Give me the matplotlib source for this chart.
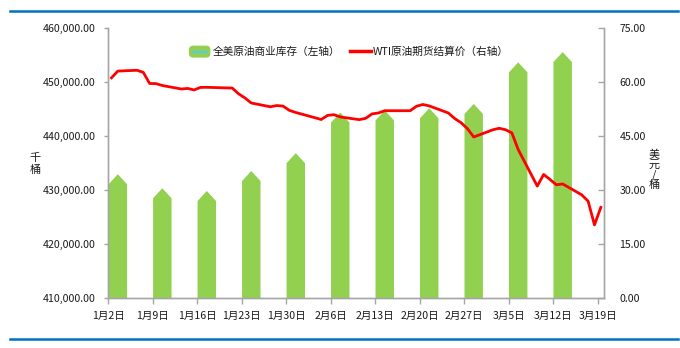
import matplotlib
matplotlib.use("Agg")
import matplotlib.pyplot as plt
import numpy as np
import pandas as pd
from matplotlib.patches import Patch, FancyBboxPatch
from matplotlib.lines import Line2D
from matplotlib.legend_handler import HandlerBase
from matplotlib.ticker import FuncFormatter, FixedLocator

plt.rcParams['font.family'] = ['Noto Sans CJK SC', 'DejaVu Sans']

# ---------------- data ----------------
start_date = "2020-01-02"
inv_dates = ["2020-01-03", "2020-01-10", "2020-01-17", "2020-01-24", "2020-01-31",
             "2020-02-07", "2020-02-14", "2020-02-21", "2020-02-28", "2020-03-06",
             "2020-03-13"]
inv_values = [431100, 428500, 428000, 431700, 435000, 442500, 442900, 443300,
              444100, 451800, 453700]

wti_dates = ["2020-01-02", "2020-01-03", "2020-01-06", "2020-01-07", "2020-01-08",
             "2020-01-09", "2020-01-10", "2020-01-13", "2020-01-14", "2020-01-15",
             "2020-01-16", "2020-01-17", "2020-01-21", "2020-01-22", "2020-01-23",
             "2020-01-24", "2020-01-27", "2020-01-28", "2020-01-29", "2020-01-30",
             "2020-01-31", "2020-02-03", "2020-02-04", "2020-02-05", "2020-02-06",
             "2020-02-07", "2020-02-10", "2020-02-11", "2020-02-12", "2020-02-13",
             "2020-02-14", "2020-02-18", "2020-02-19", "2020-02-20", "2020-02-21",
             "2020-02-24", "2020-02-25", "2020-02-26", "2020-02-27", "2020-02-28",
             "2020-03-02", "2020-03-03", "2020-03-04", "2020-03-05", "2020-03-06",
             "2020-03-09", "2020-03-10", "2020-03-11", "2020-03-12", "2020-03-13",
             "2020-03-16", "2020-03-17", "2020-03-18", "2020-03-19"]
wti_values = [61.18, 63.05, 63.27, 62.70, 59.61, 59.56, 59.04, 58.08, 58.23, 57.81,
              58.52, 58.54, 58.34, 56.74, 55.59, 54.19, 53.14, 53.48, 53.33, 52.14,
              51.56, 50.11, 49.61, 50.75, 50.95, 50.32, 49.57, 49.94, 51.17, 51.42,
              52.05, 52.05, 53.29, 53.78, 53.38, 51.43, 49.90, 48.73, 47.09, 44.76,
              46.75, 47.18, 46.78, 45.90, 41.28, 31.13, 34.36, 32.98, 31.50, 31.73,
              28.70, 26.95, 20.37, 25.22]

tick_labels = ["1月2日", "1月9日", "1月16日", "1月23日", "1月30日", "2月6日",
               "2月13日", "2月20日", "2月27日", "3月5日", "3月12日", "3月19日"]

inv_label = "全美原油商业库存（左轴）"
wti_label = "WTI原油期货结算价（右轴）"

# ---------------- helpers ----------------
t0 = pd.Timestamp(start_date)
def day_pos(dates):
    # centre of each daily bin on the date axis
    return np.array([(pd.Timestamp(d) - t0).days + 0.5 for d in dates])

inv_x = day_pos(inv_dates)
wti_x = day_pos(wti_dates)
tick_pos = [7 * i for i in range(len(tick_labels))]

GREEN = "#92D050"
RED = "#FF0000"
BLUE = "#0070C0"
SPINE = "#A6A6A6"
TXT = "#1A1A1A"


class RoundedBarHandler(HandlerBase):
    def create_artists(self, legend, orig_handle, xdescent, ydescent,
                       width, height, fontsize, trans):
        h = height * 1.25
        y0 = -ydescent + (height - h) / 2
        box = FancyBboxPatch((-xdescent + 1.5, y0 + 1.5), width - 3, h - 3,
                             boxstyle="round,pad=1.5,rounding_size=3",
                             facecolor=GREEN, edgecolor='none', transform=trans)
        ym = -ydescent + height / 2
        ln = Line2D([-xdescent + width * 0.18, -xdescent + width * 0.82], [ym, ym],
                    color="#5BC8F0", lw=1.5, transform=trans)
        return [box, ln]


fig = plt.figure(figsize=(6.8, 3.48), dpi=100)
ax = fig.add_axes([108.3 / 680, 1 - 298.3 / 348, (604 - 108.3) / 680, (298.3 - 28) / 348])
ax2 = ax.twinx()

ax.set_xlim(0, 78)
ax.set_ylim(410000, 460000)
ax2.set_ylim(0, 75)

# bars with pointed caps
half_w = 1.45
cap_h = 1850
for x, v in zip(inv_x, inv_values):
    xs = [x - half_w, x - half_w, x, x + half_w, x + half_w]
    ys = [410000, v, v + cap_h, v, 410000]
    ax.fill(xs, ys, color=GREEN, lw=0, zorder=2)

ax2.plot(wti_x, wti_values, color=RED, lw=2.0, zorder=3, solid_joinstyle='round')

# axes style
for a in (ax, ax2):
    a.spines['top'].set_visible(False)
    for s in ('left', 'right', 'bottom'):
        a.spines[s].set_color(SPINE)
        a.spines[s].set_linewidth(1.0)
    a.set_facecolor('none')

ax.yaxis.set_major_locator(FixedLocator(np.arange(410000, 460001, 10000)))
ax.yaxis.set_major_formatter(FuncFormatter(lambda v, p: f"{v:,.2f}"))
ax2.yaxis.set_major_locator(FixedLocator(np.arange(0, 75.1, 15)))
ax2.yaxis.set_major_formatter(FuncFormatter(lambda v, p: f"{v:.2f}"))

ax.set_xticks(tick_pos)
ax.set_xticklabels(tick_labels)

ax.tick_params(axis='y', direction='out', length=3, width=1, color=SPINE,
               labelsize=7.6, labelcolor=TXT, pad=6)
ax.tick_params(axis='x', direction='out', length=4, width=1, color=SPINE,
               labelsize=7.6, labelcolor=TXT, pad=5)
ax2.tick_params(axis='y', direction='in', length=4, width=1, color=SPINE,
                labelsize=7.6, labelcolor=TXT, pad=11)
ax.set_zorder(1)
ax2.set_zorder(2)

# axis titles (stacked vertical characters)
fig.text(35 / 680, 1 - 164 / 348, "千\n桶", ha='center', va='center',
         fontsize=8, color=TXT, linespacing=1.3)
fig.text(654 / 680, 1 - 170 / 348, "美\n元\n/\n桶", ha='center', va='center',
         fontsize=8, color=TXT, linespacing=1.0)

# legend
h_bar = Patch(facecolor=GREEN, edgecolor=GREEN)
h_line = Line2D([], [], color=RED, lw=2.5)
leg = ax.legend([h_bar, h_line], [inv_label, wti_label],
                handler_map={Patch: RoundedBarHandler()},
                loc='center', bbox_to_anchor=(0.4856, 0.911), ncol=2,
                frameon=False, fontsize=7.7, handlelength=2.0, handleheight=1.0,
                handletextpad=0.2, columnspacing=0.9)
for t in leg.get_texts():
    t.set_color(TXT)

# blue separator lines
fig.add_artist(Line2D([10 / 680, 678 / 680], [1 - 11 / 348, 1 - 11 / 348],
                      color=BLUE, lw=1.8, transform=fig.transFigure))
fig.add_artist(Line2D([10 / 680, 678 / 680], [1 - 339 / 348, 1 - 339 / 348],
                      color=BLUE, lw=1.8, transform=fig.transFigure))

fig.savefig("out.png", dpi=100)
